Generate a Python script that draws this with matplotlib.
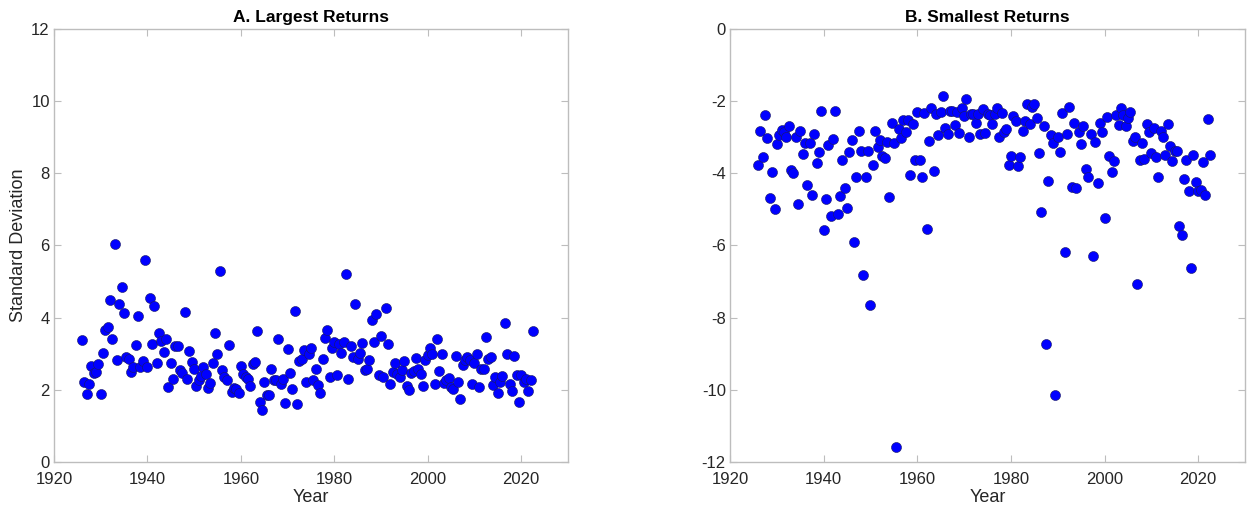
import numpy as np
import matplotlib.pyplot as plt

plt.rcParams['font.family'] = ['Liberation Sans', 'DejaVu Sans']
plt.rcParams['axes.unicode_minus'] = False

# half-yearly observations, 1926.0 to 2022.5
years = np.arange(1926, 2023, 0.5)

largest = [
    3.38, 2.22, 1.88, 2.16, 2.66, 2.47, 2.49, 2.71, 1.89, 3.03,
    3.66, 3.74, 4.48, 3.40, 6.04, 2.84, 4.39, 4.85, 4.12, 2.92,
    2.86, 2.49, 2.64, 3.24, 4.04, 2.62, 2.81, 5.59, 2.64, 4.54,
    3.26, 4.33, 2.73, 3.58, 3.36, 3.04, 3.42, 2.09, 2.75, 2.31,
    3.22, 3.22, 2.56, 2.47, 4.16, 2.31, 3.08, 2.76, 2.57, 2.10,
    2.27, 2.37, 2.62, 2.45, 2.06, 2.18, 2.75, 3.58, 3.00, 5.30,
    2.56, 2.36, 2.27, 3.23, 1.93, 2.04, 2.01, 1.90, 2.67, 2.43,
    2.36, 2.31, 2.11, 2.71, 2.77, 3.62, 1.67, 1.45, 2.22, 1.86,
    1.86, 2.57, 2.27, 2.27, 3.41, 2.16, 2.31, 1.64, 3.12, 2.46,
    2.01, 4.18, 1.62, 2.80, 2.86, 3.09, 2.22, 2.99, 3.17, 2.26,
    2.58, 2.13, 1.91, 2.86, 3.44, 3.66, 2.36, 3.17, 3.32, 2.40,
    3.26, 3.03, 3.33, 5.20, 2.29, 3.21, 2.91, 4.39, 2.86, 3.02,
    3.29, 2.55, 2.59, 2.83, 3.93, 3.32, 4.09, 2.41,
    3.48, 2.35, 4.26, 3.28, 2.17, 2.48, 2.75, 2.43, 2.36, 2.56,
    2.80, 2.11, 1.99, 2.46, 2.53, 2.89, 2.59, 2.45, 2.11, 2.83,
    2.96, 3.16, 3.00, 2.15, 3.42, 2.53, 2.98, 2.19, 2.28, 2.33,
    2.07, 2.02, 2.95, 2.23, 1.74, 2.69, 2.83, 2.92, 2.83, 2.15,
    2.74, 2.98, 2.09, 2.59, 2.58, 3.47, 2.86, 2.91, 2.13, 2.35,
    1.92, 2.22, 2.37, 3.84, 2.99, 2.15, 1.98, 2.95, 2.41, 1.65,
    2.41, 2.22, 2.29, 1.98, 2.27, 3.64,
]

smallest = [
    -3.77, -2.83, -3.55, -2.37, -3.03, -4.68, -3.97, -4.98, -3.20, -2.94,
    -2.81, -2.86, -2.98, -2.70, -3.92, -4.00, -2.98, -4.86, -2.83, -3.46,
    -3.17, -4.32, -3.17, -4.61, -2.92, -3.72, -3.42, -2.26, -5.58, -4.72,
    -3.21, -5.19, -3.05, -2.26, -5.14, -4.63, -3.64, -4.40, -4.96, -3.40,
    -3.09, -5.91, -4.09, -2.83, -3.37, -6.82, -4.09, -3.39,
    -7.65, -3.77, -2.83, -3.26, -3.09, -3.51, -3.58, -3.13, -4.66, -2.61,
    -3.17, -11.58, -2.76, -3.03, -2.51, -2.85, -2.53, -4.05, -2.63, -3.64,
    -2.31, -3.64, -4.10, -2.33, -5.55, -3.11, -2.20, -3.93, -2.35, -2.95,
    -2.31, -1.87, -2.75, -2.92, -2.27, -2.27, -2.65, -2.29, -2.88, -2.20,
    -2.42, -1.94, -2.98, -2.36, -2.36, -2.60, -2.36, -2.91, -2.22, -2.87,
    -2.36, -2.38, -2.63, -2.36, -2.18, -2.98, -2.34, -2.85, -2.76, -3.77,
    -3.51, -2.41, -2.54, -3.81, -3.56, -2.83, -2.54, -2.09, -2.63, -2.17,
    -2.07, -2.47, -3.45, -5.06, -2.69, -8.74, -4.21, -2.94, -3.17, -10.13,
    -2.98, -3.42, -2.34, -6.17, -2.92, -2.15, -4.37, -2.60, -4.42, -2.85,
    -3.19, -2.70, -3.88, -4.11, -2.90, -6.29, -3.13, -4.26, -2.61, -2.85,
    -5.23, -2.43, -3.53, -3.96, -3.67, -2.38, -2.66, -2.20, -2.39, -2.68,
    -2.48, -2.29, -3.10, -3.00, -7.08, -3.62, -3.16, -3.59, -2.63, -2.85,
    -3.43, -2.74, -3.54, -4.09, -2.83, -2.99, -3.50, -2.64, -3.23, -3.67,
    -3.39, -3.39, -5.47, -5.70, -4.15, -3.63, -4.50, -6.62, -3.50, -4.23,
    -4.50, -4.46, -3.70, -4.61, -2.49, -3.48,
]

grey = '#bdbdbd'
txt = '#262626'

fig = plt.figure(figsize=(12.52, 5.14), dpi=100)
ax1 = fig.add_axes([0.0431, 0.1012, 0.4105, 0.8424])
ax2 = fig.add_axes([0.5831, 0.1012, 0.4113, 0.8424])

for ax, vals, title, ylim in [(ax1, largest, 'A. Largest Returns', (0, 12)),
                              (ax2, smallest, 'B. Smallest Returns', (-12, 0))]:
    ax.scatter(years, vals, s=52, c='#0000ff', edgecolors='#1a1a60',
               linewidths=0.4, zorder=3)
    ax.set_xlim(1920, 2030)
    ax.set_ylim(*ylim)
    ax.set_xticks(np.arange(1920, 2021, 20))
    ax.set_yticks(np.arange(ylim[0], ylim[1] + 1, 2))
    ax.tick_params(direction='in', top=True, right=True, length=5,
                   color=grey, labelcolor=txt, labelsize=12)
    ax.tick_params(axis='x', pad=7)
    ax.tick_params(axis='y', pad=3)
    for sp in ax.spines.values():
        sp.set_color(grey)
        sp.set_linewidth(1.0)
    ax.set_title(title, fontsize=12.5, fontweight='bold', pad=5, color='black')
    ax.set_xlabel('Year', fontsize=13, color=txt, labelpad=2)

ax1.set_ylabel('Standard Deviation', fontsize=13, color=txt, labelpad=3)

fig.savefig('out.png', dpi=100)
